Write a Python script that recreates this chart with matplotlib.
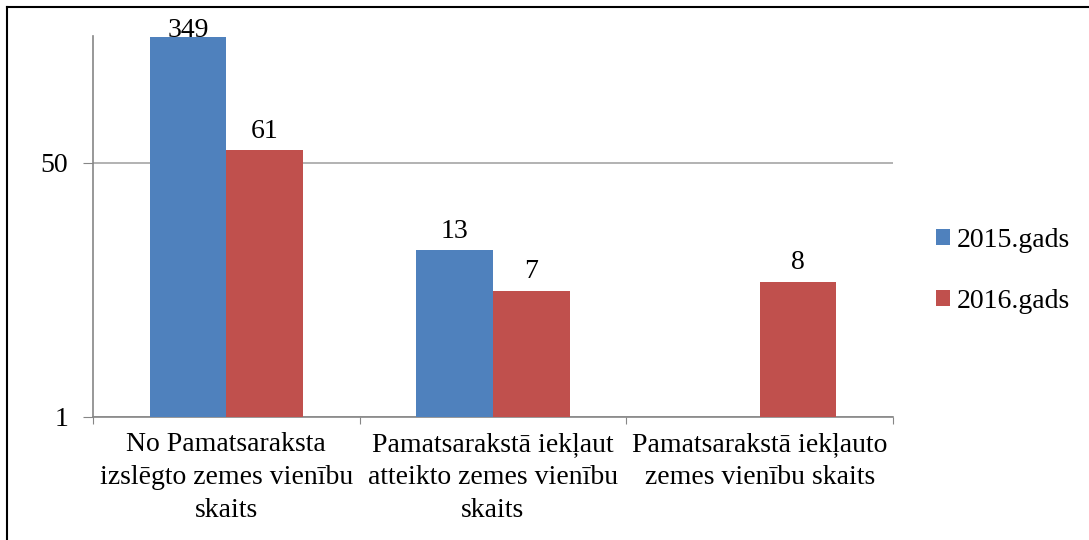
import numpy as np
from matplotlib import pyplot as plt
from matplotlib.lines import Line2D

categories = ['No Pamatsaraksta\nizslēgto zemes vienību\nskaits',
              'Pamatsarakstā iekļaut\natteikto zemes vienību\nskaits',
              'Pamatsarakstā iekļauto\nzemes vienību skaits']
series_names = ['2015.gads', '2016.gads']
values_2015 = [349, 13, None]
values_2016 = [61, 7, 8]
colors = ['#4F81BD', '#C0504D']

plt.rcParams['font.family'] = ['Liberation Serif', 'DejaVu Serif']

W, H = 1089, 540
FS = 20
fig = plt.figure(figsize=(W / 100, H / 100), dpi=100)
ax = fig.add_axes([93 / W, 1 - 417 / H, 800 / W, (417 - 36) / H])
ymax = 353

x = np.arange(len(categories))
width = 0.288
for i, (vals, name) in enumerate(zip([values_2015, values_2016], series_names)):
    xs = [xi + (i - 0.5) * width for xi, v in zip(x, vals) if v is not None]
    ys = [v for v in vals if v is not None]
    bars = ax.bar(xs, ys, width, color=colors[i], label=name, zorder=3)
    for b, v in zip(bars, ys):
        # label sits above the bar, pushed down to the axis top if no room
        off = 9 if v * 1.2 < ymax else 0
        ax.annotate(str(v), (b.get_x() + b.get_width() / 2, v),
                    xytext=(0, off), textcoords='offset points',
                    ha='center', va='baseline', fontsize=FS, zorder=4)

ax.set_yscale('log')
ax.set_ylim(1, ymax)
ax.set_xlim(-0.5, len(categories) - 0.5)
ax.set_yticks([1, 50])
ax.set_yticklabels(['1', '50'])
ax.yaxis.set_minor_locator(plt.NullLocator())
ax.set_xticks(np.arange(len(categories) + 1) - 0.5)
ax.set_xticklabels([])
ax.set_xticks(x, minor=True)
ax.set_xticklabels(categories, minor=True, fontsize=FS, linespacing=1.42)
ax.tick_params(axis='x', which='minor', length=0, pad=11)
ax.tick_params(axis='x', which='major', length=5, color='#868686', direction='out')
ax.tick_params(axis='y', length=7, color='#868686', labelsize=FS, pad=11)
ax.grid(axis='y', which='major', color='#A6A6A6', linewidth=1.2, zorder=0)

for s in ['top', 'right']:
    ax.spines[s].set_visible(False)
for s in ['left', 'bottom']:
    ax.spines[s].set_color('#868686')
    ax.spines[s].set_linewidth(1.2)

ax.legend(loc='center left', bbox_to_anchor=(936 / W, 1 - 271 / H),
          bbox_transform=fig.transFigure, frameon=False, fontsize=FS,
          handlelength=0.5, handleheight=0.5, handletextpad=0.25,
          labelspacing=1.3, borderaxespad=0, borderpad=0)

fig.add_artist(Line2D([7 / W, 7 / W], [0, 1 - 7 / H], transform=fig.transFigure,
                      color='black', linewidth=1.5))
fig.add_artist(Line2D([7 / W, 1], [1 - 7 / H, 1 - 7 / H], transform=fig.transFigure,
                      color='black', linewidth=1.5))

fig.savefig('out.png', dpi=100)
